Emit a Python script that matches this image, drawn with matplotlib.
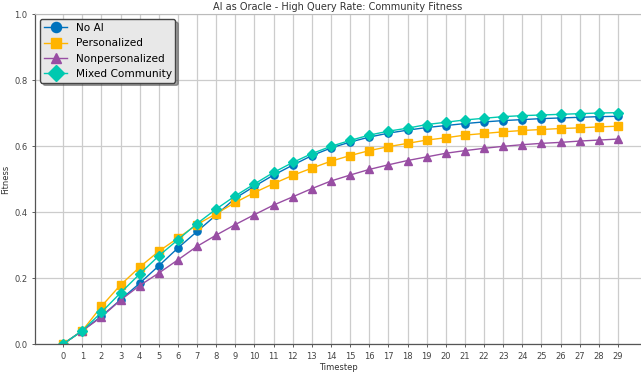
import numpy as np
import matplotlib.pyplot as plt

# data
timesteps = list(range(30))

no_ai = [0.0, 0.040, 0.084, 0.134, 0.184, 0.237, 0.291, 0.341, 0.391, 0.442,
         0.478, 0.512, 0.542, 0.571, 0.594, 0.612, 0.627, 0.639, 0.648, 0.656,
         0.662, 0.668, 0.673, 0.677, 0.680, 0.683, 0.685, 0.687, 0.689, 0.690]
personalized = [0.0, 0.040, 0.114, 0.179, 0.233, 0.281, 0.321, 0.362, 0.395, 0.429,
                0.459, 0.486, 0.511, 0.533, 0.554, 0.571, 0.586, 0.598, 0.608, 0.618,
                0.625, 0.633, 0.638, 0.643, 0.647, 0.650, 0.653, 0.655, 0.658, 0.660]
nonpersonalized = [0.0, 0.040, 0.082, 0.133, 0.177, 0.215, 0.255, 0.296, 0.330, 0.362,
                   0.392, 0.421, 0.446, 0.471, 0.494, 0.512, 0.529, 0.543, 0.556, 0.567,
                   0.578, 0.586, 0.593, 0.599, 0.604, 0.608, 0.611, 0.615, 0.618, 0.621]
mixed = [0.0, 0.040, 0.096, 0.155, 0.212, 0.267, 0.316, 0.365, 0.409, 0.449,
         0.485, 0.520, 0.550, 0.577, 0.599, 0.617, 0.633, 0.645, 0.654, 0.665,
         0.672, 0.679, 0.684, 0.689, 0.692, 0.694, 0.696, 0.698, 0.700, 0.701]

series = [
    ("No AI", no_ai, "#0072BD", "o"),
    ("Personalized", personalized, "#FFB400", "s"),
    ("Nonpersonalized", nonpersonalized, "#984EA3", "^"),
    ("Mixed Community", mixed, "#00C9B0", "D"),
]

fig = plt.figure(figsize=(6.41, 3.74), dpi=100)
ax = fig.add_axes([35 / 641, 30 / 374, 606 / 641, 330 / 374])

for name, vals, color, marker in series:
    ms = 5.5 if marker == "D" else 5.2
    ax.plot(timesteps, vals, color=color, marker=marker, markersize=ms,
            linewidth=1.0, label=name)

ax.set_xlim(-1.47, 30.2)
ax.set_ylim(0, 1.0)
ax.set_xticks(timesteps)
ax.set_yticks([0.0, 0.2, 0.4, 0.6, 0.8, 1.0])
ax.tick_params(labelsize=6, colors="#444444", length=2, width=0.6)
ax.grid(True, color="#cccccc", linewidth=0.9)
ax.set_axisbelow(True)

for s in ["left", "bottom"]:
    ax.spines[s].set_color("#555555")
    ax.spines[s].set_linewidth(0.9)
ax.spines["top"].set_color("#bbbbbb")
ax.spines["right"].set_visible(False)

ax.set_title("AI as Oracle - High Query Rate: Community Fitness", fontsize=7,
             color="#333333", pad=3)
ax.set_xlabel("Timestep", fontsize=6, color="#333333", labelpad=2)
ax.set_ylabel("Fitness", fontsize=6, color="#333333", labelpad=3)

leg = ax.legend(loc="upper left", fontsize=7.6, frameon=True, fancybox=True,
                shadow=True, borderpad=0.35, labelspacing=0.5, handlelength=2.2,
                markerscale=1.4, bbox_to_anchor=(0.0, 1.0))
leg.get_frame().set_facecolor("#e8e8e8")
leg.get_frame().set_edgecolor("#444444")
leg.get_frame().set_alpha(1)

fig.savefig("out.png", dpi=100)
